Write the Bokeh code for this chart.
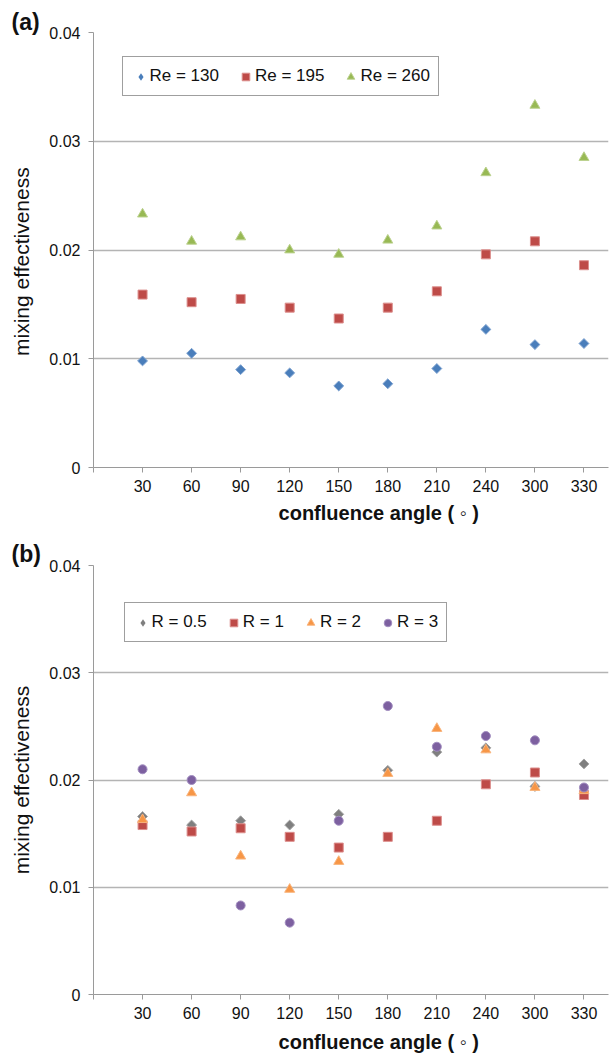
from bokeh.plotting import figure
from bokeh.layouts import column
from bokeh.models import Range1d, FixedTicker, Legend, LegendItem, Title
from bokeh.embed import file_html
from bokeh.resources import INLINE

# ---------------- data ----------------
angles = ["30", "60", "90", "120", "150", "180", "210", "240", "300", "330"]

re130 = [0.0098, 0.0105, 0.0090, 0.0087, 0.0075, 0.0077, 0.0091, 0.0127, 0.0113, 0.0114]
re195 = [0.0159, 0.0152, 0.0155, 0.0147, 0.0137, 0.0147, 0.0162, 0.0196, 0.0208, 0.0186]
re260 = [0.0233, 0.0208, 0.0212, 0.0200, 0.0196, 0.0209, 0.0222, 0.0271, 0.0333, 0.0285]

r05 = [0.0166, 0.0158, 0.0162, 0.0158, 0.0168, 0.0209, 0.0226, 0.0230, 0.0194, 0.0215]
r1 = [0.0158, 0.0152, 0.0155, 0.0147, 0.0137, 0.0147, 0.0162, 0.0196, 0.0207, 0.0186]
r2 = [0.0163, 0.0188, 0.0129, 0.0098, 0.0124, 0.0206, 0.0248, 0.0228, 0.0193, 0.0190]
r3 = [0.0210, 0.0200, 0.0083, 0.0067, 0.0162, 0.0269, 0.0231, 0.0241, 0.0237, 0.0193]

y_ticks = [0.0, 0.01, 0.02, 0.03, 0.04]
y_tick_labels = ["0", "0.01", "0.02", "0.03", "0.04"]

legend_a = ["Re = 130", "Re = 195", "Re = 260"]
legend_b = ["R = 0.5", "R = 1", "R = 2", "R = 3"]

x_title = "confluence angle ( \u25e6 )"
y_title = "mixing effectiveness"

FONT = "Liberation Sans"
DIAMOND_ANGLE = 0.7853981633974483
NBSP = "\u00a0"


def make_panel(tag, series, height, top, bottom, legend_xy, tag_standoff,
               xtitle_standoff, ytitle_pad):
    p = figure(width=616, height=height, output_backend="svg", toolbar_location=None,
               title=None, x_range=Range1d(0, 10.5), y_range=Range1d(y_ticks[0], y_ticks[-1]),
               min_border_left=93, min_border_right=8, min_border_top=top,
               min_border_bottom=bottom)
    p.outline_line_color = None
    p.background_fill_color = "white"
    p.border_fill_color = "white"

    xs = list(range(1, len(angles) + 1))
    items = []
    for name, vals, marker, size, fill, line, ang in series:
        r = p.scatter(xs, vals, marker=marker, size=size, fill_color=fill,
                      line_color=line, line_width=1, angle=ang)
        if ang != 0.0:
            # legend swatch for the rotated squares: an upright diamond, drawn
            # as a vanishing dot at the centre of each real marker
            r = p.scatter(xs, vals, marker="diamond", size=0.5, fill_color=fill,
                          line_color=fill, line_alpha=0.0, line_width=1)
        items.append(LegendItem(label=name, renderers=[r]))

    # x axis
    xa = p.xaxis[0]
    xa.ticker = FixedTicker(ticks=list(range(0, len(angles) + 1)))
    ov = {0: ""}
    for i, a in enumerate(angles):
        ov[i + 1] = a
    xa.major_label_overrides = ov
    xa.major_tick_out = 5
    xa.major_tick_in = 0
    xa.minor_tick_out = 0
    xa.minor_tick_in = 0
    xa.axis_line_color = "#9a9a9a"
    xa.major_tick_line_color = "#9a9a9a"
    xa.major_label_standoff = 7
    xa.major_label_text_font = FONT
    xa.major_label_text_font_size = "16px"
    xa.major_label_text_color = "#111111"
    # title sits a little right of the plot-area centre, as in the original
    xa.axis_label = NBSP * 10 + x_title
    xa.axis_label_standoff = xtitle_standoff
    xa.axis_label_text_font = FONT
    xa.axis_label_text_font_style = "bold"
    xa.axis_label_text_font_size = "20px"
    xa.axis_label_text_color = "#111111"
    p.xgrid.visible = False

    # y axis
    ya = p.yaxis[0]
    ya.ticker = FixedTicker(ticks=y_ticks)
    ya.major_label_overrides = {v: l for v, l in zip(y_ticks, y_tick_labels)}
    ya.major_tick_out = 5
    ya.major_tick_in = 0
    ya.minor_tick_out = 0
    ya.minor_tick_in = 0
    ya.axis_line_color = "#9a9a9a"
    ya.major_tick_line_color = "#9a9a9a"
    ya.major_label_standoff = 8
    ya.major_label_text_font = FONT
    ya.major_label_text_font_size = "16px"
    ya.major_label_text_color = "#111111"
    ya.axis_label = y_title + NBSP * ytitle_pad
    ya.axis_label_text_font = FONT
    ya.axis_label_text_font_size = "21px"
    ya.axis_label_text_font_style = "normal"
    ya.axis_label_text_color = "#111111"
    ya.axis_label_standoff = 13
    p.ygrid.grid_line_color = "#b4b4b4"
    p.ygrid.grid_line_width = 1.5

    # panel tag, top-left
    p.add_layout(Title(text=tag, align="left", offset=-82, standoff=tag_standoff,
                       text_font=FONT, text_font_style="bold", text_font_size="23px",
                       text_color="#111111", vertical_align="bottom"), "above")

    leg = Legend(items=items, orientation="horizontal", location=legend_xy,
                 glyph_width=19, glyph_height=19, label_standoff=0, spacing=17,
                 padding=8, label_height=22, margin=0,
                 label_text_font=FONT, label_text_font_size="17px",
                 label_text_color="#111111",
                 border_line_color="#404040", border_line_width=1,
                 background_fill_color="white", background_fill_alpha=1.0)
    p.add_layout(leg)
    return p


series_a = [
    (legend_a[0], re130, "square", 7, "#4a7ebb", "#7fa3d1", DIAMOND_ANGLE),
    (legend_a[1], re195, "square", 9, "#be4b48", "#dc8f8d", 0.0),
    (legend_a[2], re260, "triangle", 10, "#98b954", "#bcd28f", 0.0),
]
series_b = [
    (legend_b[0], r05, "square", 7, "#7f7f7f", "#a5a5a5", DIAMOND_ANGLE),
    (legend_b[1], r1, "square", 9, "#be4b48", "#dc8f8d", 0.0),
    (legend_b[2], r2, "triangle", 10, "#f79646", "#f9b47c", 0.0),
    (legend_b[3], r3, "circle", 9, "#7d60a0", "#a28ec0", 0.0),
]

pa = make_panel("(a)", series_a, 528, 32, 61, (28.5, 371), -4, 7, 4)
pb = make_panel("(b)", series_b, 528, 37, 62, (30.5, 352), -2, 9, 0)

layout = column(pa, pb, spacing=0)
open("out.html", "w").write(file_html(layout, INLINE))
